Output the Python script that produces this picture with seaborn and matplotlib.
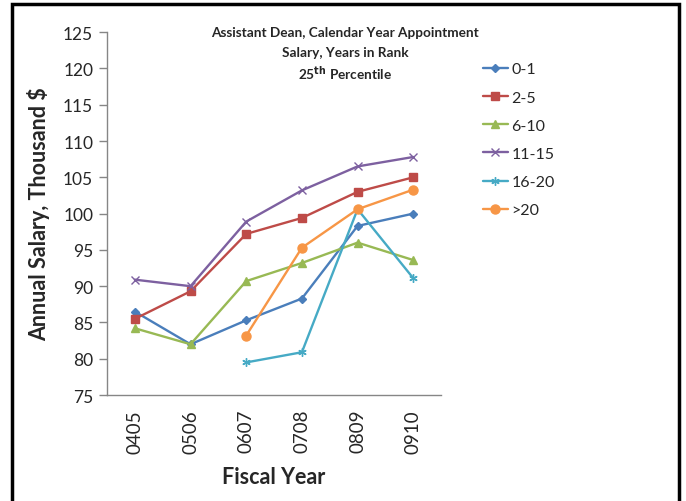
"""Assistant Dean salary, 25th percentile, by years in rank."""

import matplotlib.pyplot as plt
import numpy as np
import pandas as pd
import seaborn as sns
from matplotlib.patches import Rectangle

years = ["0405", "0506", "0607", "0708", "0809", "0910"]
groups = ["0-1", "2-5", "6-10", "11-15", "16-20", ">20"]

salary_0_1 = [86.5, 82.0, 85.3, 88.3, 98.3, 100.0]
salary_2_5 = [85.5, 89.3, 97.2, 99.4, 103.0, 105.0]
salary_6_10 = [84.2, 82.0, 90.7, 93.2, 96.0, 93.6]
salary_11_15 = [90.9, 90.0, 98.9, 103.2, 106.5, 107.8]
salary_16_20 = [np.nan, np.nan, 79.5, 80.9, 100.6, 91.1]
salary_over_20 = [np.nan, np.nan, 83.2, 95.3, 100.6, 103.3]

series = [salary_0_1, salary_2_5, salary_6_10, salary_11_15, salary_16_20, salary_over_20]
colors = ["#4A7EBB", "#BE4B48", "#98B954", "#7D60A0", "#46AAC5", "#F79646"]
markers = ["D", "s", "^", "x", (6, 2, 0), "o"]
marker_sizes = [4.5, 6, 6, 6, 6, 6.5]

rows = []
for group, values in zip(groups, series):
    for pos, (year, val) in enumerate(zip(years, values)):
        rows.append({"pos": pos, "year": year, "group": group, "salary": val})
df = pd.DataFrame(rows).dropna()

sns.set_style("white")
plt.rcParams["font.family"] = ["Lato", "DejaVu Sans"]

fig = plt.figure(figsize=(6.86, 5.02), dpi=100)
ax = fig.add_axes([0.156, 0.211, 0.487, 0.723])

for group, color, marker, ms in zip(groups, colors, markers, marker_sizes):
    sub = df.loc[df["group"] == group]
    sns.lineplot(
        data=sub, x="pos", y="salary", ax=ax, color=color, marker=marker,
        markersize=ms, linewidth=1.7, label=group, markeredgecolor=color,
        markeredgewidth=1.0,
    )

ax.set_xlim(-0.5, len(years) - 0.5)
ax.set_ylim(75, 125)
ax.set_yticks(np.arange(75, 126, 5))
ax.set_xticks(range(len(years)))
ax.set_xticklabels(years, rotation=90, fontsize=13.5)
ax.set_xticks(np.arange(-0.5, len(years), 1.0), minor=True)
ax.tick_params(axis="x", which="major", length=0, pad=10)
ax.tick_params(axis="x", which="minor", length=6, color="#868686", width=1, direction="out")
ax.tick_params(axis="y", length=6, color="#868686", width=1, direction="out", labelsize=12.5, pad=4)
ax.tick_params(bottom=True, left=True)
for side in ["top", "right"]:
    ax.spines[side].set_visible(False)
for side in ["left", "bottom"]:
    ax.spines[side].set_color("#868686")
    ax.spines[side].set_linewidth(1)

ax.set_xlabel("Fiscal Year", fontsize=15.5, fontweight="bold", labelpad=10)
ax.set_ylabel(r"Annual Salary, Thousand \$", fontsize=15.5, fontweight="bold", labelpad=9)

title_kw = dict(ha="center", va="center", fontsize=9.8, fontweight="bold")
fig.text(0.503, 0.934, "Assistant Dean, Calendar Year Appointment", **title_kw)
fig.text(0.503, 0.894, "Salary, Years in Rank", **title_kw)
fig.text(0.503, 0.854, r"25$^{\mathbf{th}}$ Percentile", **title_kw)

ax.legend(
    loc="upper left", bbox_to_anchor=(1.105, 0.935), frameon=False, fontsize=11.5,
    handlelength=1.6, handletextpad=0.2, labelspacing=0.88, borderaxespad=0,
)

fig.patches.append(Rectangle((12 / 686, -0.05), 667 / 686, 1.05 - 5 / 502,
                             transform=fig.transFigure, fill=False, edgecolor="black",
                             linewidth=2.5, clip_on=False))

fig.savefig("out.png", dpi=100)
